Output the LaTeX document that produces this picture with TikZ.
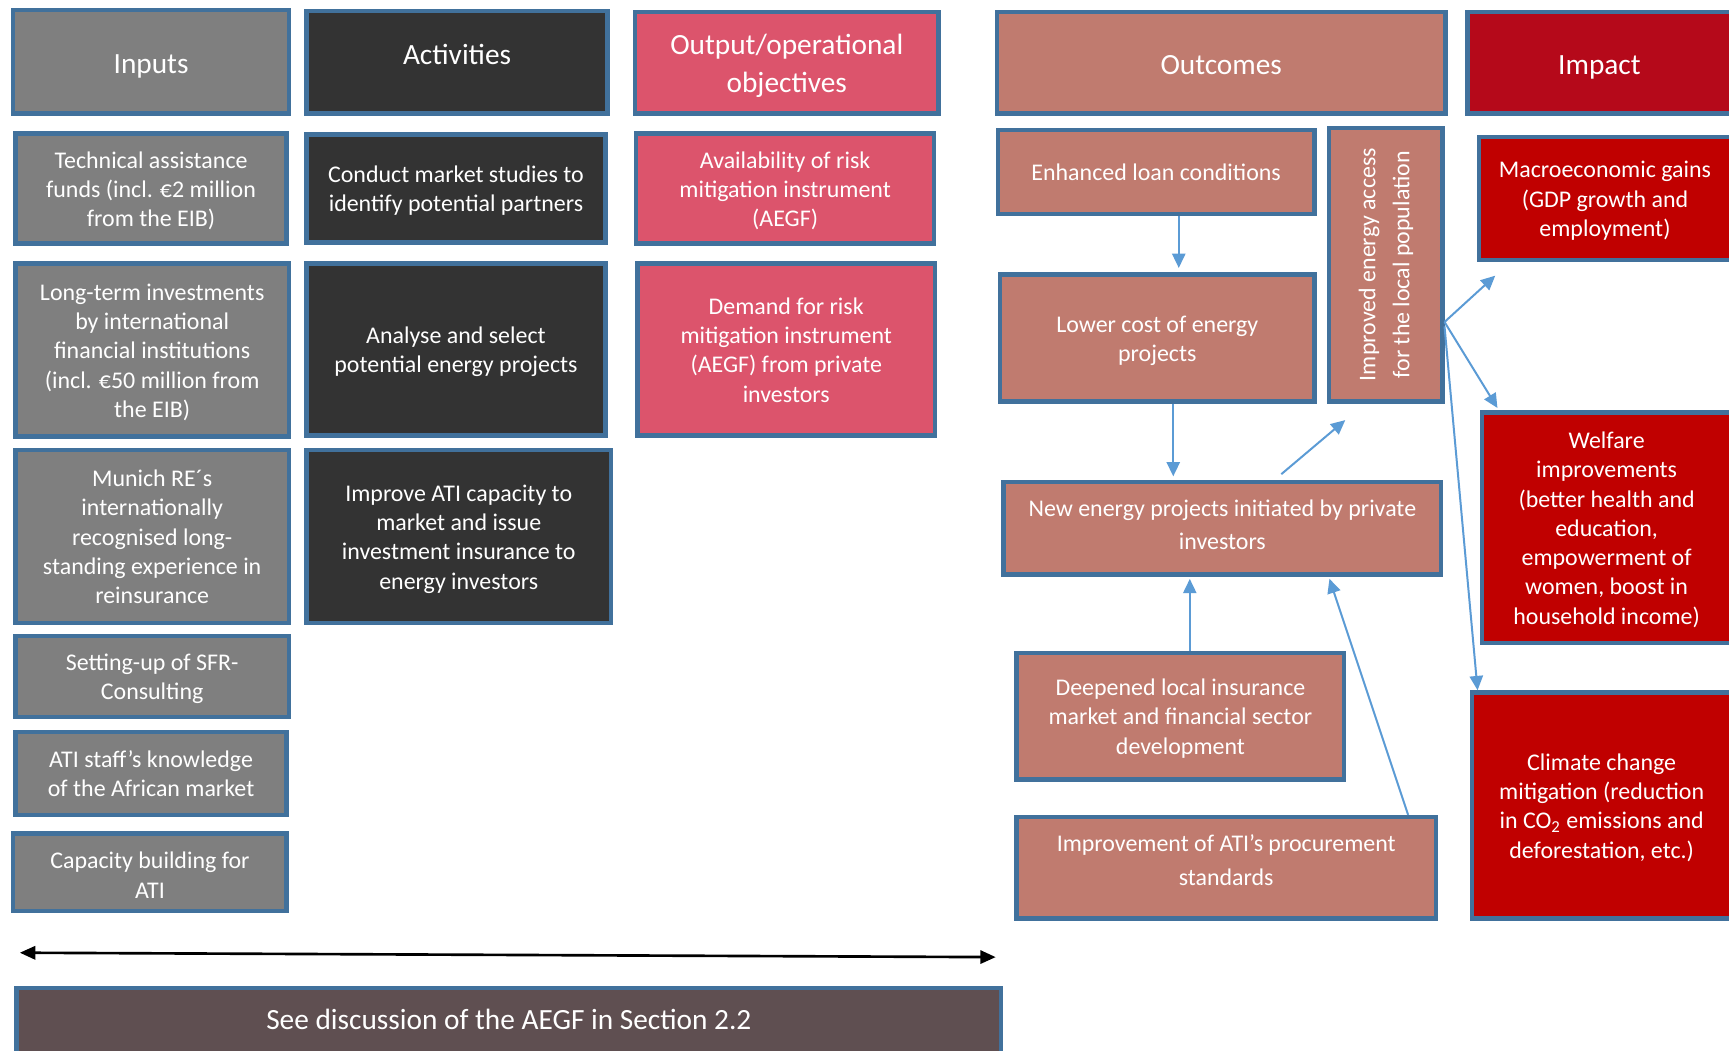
\documentclass[tikz,border=0pt]{standalone}
\usepackage{fontspec}
\setmainfont{Carlito}
\usetikzlibrary{arrows.meta}
\definecolor{bord}{HTML}{41719C}
\definecolor{ingray}{HTML}{7F7F7F}
\definecolor{actdark}{HTML}{333333}
\definecolor{outpink}{HTML}{DC546C}
\definecolor{outcbrown}{HTML}{C07B6F}
\definecolor{imphead}{HTML}{B5091A}
\definecolor{impred}{HTML}{C00000}
\definecolor{secbrown}{HTML}{5F4F51}
\definecolor{connblue}{HTML}{5B9BD5}
\tikzset{tshift/.store in=\tshiftval, tshift=0pt}
\newcommand\lines[1]{\raisebox{-\tshiftval}[\height][\depth]{\begin{tabular}{@{}c@{}}#1\end{tabular}}}
\newcommand\bx[7]{\node[#6, minimum width={(#4-#2)*0.5pt-2pt}, minimum height={(#5-#3)*0.5pt-2pt}] (#1) at ({(#2+#4)/2},{(#3+#5)/2}) {\lines{#7}};}
\begin{document}
\begin{tikzpicture}[x=0.5pt,y=-0.5pt,
  box/.style={draw=bord, line width=2pt, text=white, inner sep=1pt,
    font=\fontsize{10.85pt}{13.25pt}\selectfont, tshift=1.3pt},
  head/.style={font=\fontsize{13.3pt}{17pt}\selectfont, tshift=2pt},
  wide/.style={font=\fontsize{10.85pt}{15.25pt}\selectfont, tshift=-0.8pt},
  inpbox/.style={box, fill=ingray},
  actbox/.style={box, fill=actdark},
  outpbox/.style={box, fill=outpink},
  outcbox/.style={box, fill=outcbrown},
  impbox/.style={box, fill=impred},
  secbox/.style={box, fill=secbrown},
  conn/.style={draw=connblue, line width=0.9pt, -{Triangle[length=6.5pt,width=6pt]}},
  dbl/.style={draw=black, line width=1.2pt, {Triangle[length=7pt,width=6pt]}-{Triangle[length=7pt,width=6pt]}}
]
\useasboundingbox (0,0) rectangle (1568,953);
\clip (0,0) rectangle (1568,953);
\fill[white] (0,0) rectangle (1568,953);
% headers
\bx{hin}{10}{7}{264}{105}{inpbox,head}{Inputs}
\bx{hact}{276}{8}{553}{105}{actbox,head,tshift=-2.25pt}{Activities}
\bx{hout}{574}{9}{853}{105}{outpbox,head,tshift=1.5pt}{Output/operational\\objectives}
\bx{hoc}{902}{9}{1313}{105}{outcbox,head}{Outcomes}
\bx{himp}{1329}{9}{1572}{105}{impbox,head,fill=imphead}{Impact}
% inputs
\bx{i1}{12}{119}{262}{223}{inpbox}{Technical assistance\\funds (incl. €2 million\\from the EIB)}
\bx{i2}{12}{237}{264}{398}{inpbox}{Long-term investments\\by international\\financial institutions\\(incl. €50 million from\\the EIB)}
\bx{i3}{12}{406}{264}{567}{inpbox}{Munich RE´s\\internationally\\recognised long-\\standing experience in\\reinsurance}
\bx{i4}{12}{575}{264}{652}{inpbox}{Setting-up of SFR-\\Consulting}
\bx{i5}{12}{662}{262}{741}{inpbox}{ATI staff’s knowledge\\of the African market}
\bx{i6}{10}{754}{262}{828}{inpbox,tshift=2.5pt}{Capacity building for\\ATI}
% activities
\bx{a1}{276}{120}{551}{222}{actbox}{Conduct market studies to\\identify potential partners}
\bx{a2}{276}{237}{551}{397}{actbox}{Analyse and select\\potential energy projects}
\bx{a3}{276}{406}{556}{567}{actbox}{Improve ATI capacity to\\market and issue\\investment insurance to\\energy investors}
% outputs
\bx{o1}{575}{119}{849}{223}{outpbox}{Availability of risk\\mitigation instrument\\(AEGF)}
\bx{o2}{576}{237}{850}{397}{outpbox}{Demand for risk\\mitigation instrument\\(AEGF) from private\\investors}
% outcomes
\bx{enh}{903}{116}{1194}{196}{outcbox}{Enhanced loan conditions}
\bx{low}{905}{247}{1194}{366}{outcbox}{Lower cost of energy\\projects}
\node[outcbox, font=\fontsize{10.85pt}{15.5pt}\selectfont, tshift=0pt, rotate=90,
  minimum width={(366-114)*0.5pt-2pt}, minimum height={(1310-1203)*0.5pt-2pt}]
  (acc) at (1256.5,240) {\lines{Improved energy access\\for the local population}};
\bx{new}{908}{435}{1309}{523}{outcbox,wide}{New energy projects initiated by private\\investors}
\bx{deep}{920}{590}{1221}{709}{outcbox}{Deepened local insurance\\market and financial sector\\development}
\bx{impr}{920}{739}{1304}{835}{outcbox,wide,tshift=-2.8pt}{Improvement of ATI’s procurement\\standards}
% impact
\bx{mac}{1339}{122}{1572}{238}{impbox}{Macroeconomic gains\\(GDP growth and\\employment)}
\bx{wel}{1342}{372}{1572}{585}{impbox}{Welfare\\improvements\\(better health and\\education,\\empowerment of\\women, boost in\\household income)}
\bx{cli}{1333}{626}{1572}{835}{impbox}{Climate change\\mitigation (reduction\\in CO\textsubscript{2} emissions and\\deforestation, etc.)}
% bottom
\bx{sec}{13}{894}{910}{958}{secbox,head,tshift=0.5pt}{See discussion of the AEGF in Section 2.2}
% connectors
\draw[conn, shorten >=2pt] ([xshift=10.25pt]enh.south) -- ([xshift=10.25pt]enh.south |- low.north);
\draw[conn, shorten >=1.5pt] ([xshift=7.25pt]low.south) -- ([xshift=7.25pt]low.south |- new.north);
\coordinate (accin) at (1220,381);
\draw[conn] ([xshift=26.75pt,yshift=2.5pt]new.north) -- (accin);
\draw[conn, shorten >=1pt] ([xshift=4.25pt]deep.north) -- ([xshift=4.25pt]deep.north |- new.south);
\draw[conn, shorten >=1pt] ([xshift=82.5pt]impr.north) -- ([xshift=48.25pt]new.south);
\coordinate (macin) at (1356,250);
\draw[conn] ([yshift=-26pt]acc.south) -- (macin);
\draw[conn] ([yshift=-26pt]acc.south) -- ([xshift=8pt,yshift=1pt]wel.north west);
\draw[conn] ([yshift=-28pt]acc.south) -- ([xshift=3.5pt]cli.north west);
\coordinate (la) at (18,864);
\coordinate (ra) at (903,868);
\draw[dbl] (la) -- (ra);
\end{tikzpicture}
\end{document}
